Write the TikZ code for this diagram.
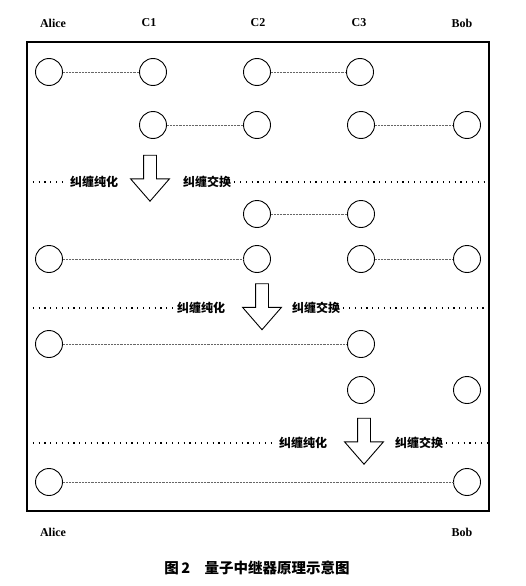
\documentclass[tikz,border=0pt]{standalone}
\usepackage{fontspec}
\setmainfont{Liberation Serif}
\newfontfamily\cjk{Noto Sans CJK SC}
\usetikzlibrary{shapes.arrows}

\begin{document}
\begin{tikzpicture}[x=1pt, y=-1pt,
		qubit/.style={circle, draw, line width=0.9pt, minimum size=27pt, inner sep=0pt},
		link/.style={-, line width=0.45pt, densely dotted, black!60},
		sep/.style={line width=1.1pt, dash pattern=on 1.2pt off 4.6pt},
		party/.style={font=\bfseries\fontsize{12}{14}\selectfont},
		op/.style={font=\cjk\bfseries\fontsize{12}{14}\selectfont, inner sep=3pt},
		downarrow/.style={single arrow, draw, line width=0.9pt, shape border rotate=270,
			minimum height=46pt, inner sep=6pt,
			single arrow head extend=13pt, single arrow tip angle=82}]
		\useasboundingbox (0,0) rectangle (526,586);

		% labels
		\node[party] (alice) at (53, 23) {Alice};
		\node[party] (c1) at (149, 23) {C1};
		\node[party] (c2) at (258, 23) {C2};
		\node[party] (c3) at (359, 23) {C3};
		\node[party] (bob) at (462, 23) {Bob};
		\node[party] (alice2) at (53, 532) {Alice};
		\node[party] (bob2) at (462, 532) {Bob};

		% frame
		\draw[line width=1.3pt] (27, 42) rectangle (489, 511);

		% row 1
		\node[qubit] (a1) at (49, 72) {};
		\node[qubit] (c11) at (153, 72) {};
		\node[qubit] (c21) at (257, 72) {};
		\node[qubit] (c31) at (360, 72) {};
		% row 2
		\node[qubit] (c12) at (153, 125) {};
		\node[qubit] (c22) at (257, 125) {};
		\node[qubit] (c32) at (361, 125) {};
		\node[qubit] (b2) at (467, 125) {};
		% row 3
		\node[qubit] (c23) at (257, 214) {};
		\node[qubit] (c33) at (361, 214) {};
		% row 4
		\node[qubit] (a4) at (49, 259) {};
		\node[qubit] (c24) at (257, 259) {};
		\node[qubit] (c34) at (361, 259) {};
		\node[qubit] (b4) at (467, 259) {};
		% row 5
		\node[qubit] (a5) at (49, 344) {};
		\node[qubit] (c35) at (361, 344) {};
		% row 6
		\node[qubit] (c36) at (361, 390) {};
		\node[qubit] (b6) at (467, 390) {};
		% row 7
		\node[qubit] (a7) at (49, 482) {};
		\node[qubit] (b7) at (467, 482) {};

		% entangled pairs
		\path [link] (a1) edge (c11);
		\path [link] (c21) edge (c31);
		\path [link] (c12) edge (c22);
		\path [link] (c32) edge (b2);
		\path [link] (c23) edge (c33);
		\path [link] (a4) edge (c24);
		\path [link] (c34) edge (b4);
		\path [link] (a5) edge (c35);
		\path [link] (a7) edge (b7);

		% steps
		\coordinate (l1) at (27, 182);
		\coordinate (r1) at (489, 182);
		\node[op] (pur1) at (94, 182) {纠缠纯化};
		\node[downarrow] (arr1) at (150, 174.5) {};
		\node[op] (swp1) at (207, 182) {纠缠交换};
		\draw[sep] (l1) -- (pur1.west);
		\draw[sep] (swp1.east) -- (r1);

		\coordinate (l2) at (27, 308);
		\coordinate (r2) at (489, 308);
		\node[op] (pur2) at (201, 308) {纠缠纯化};
		\node[downarrow] (arr2) at (262, 303) {};
		\node[op] (swp2) at (316, 308) {纠缠交换};
		\draw[sep] (l2) -- (pur2.west);
		\draw[sep] (swp2.east) -- (r2);

		\coordinate (l3) at (27, 443);
		\coordinate (r3) at (489, 443);
		\node[op] (pur3) at (303, 443) {纠缠纯化};
		\node[downarrow] (arr3) at (364, 437.5) {};
		\node[op] (swp3) at (419, 443) {纠缠交换};
		\draw[sep] (l3) -- (pur3.west);
		\draw[sep] (swp3.east) -- (r3);

		% caption
		\node[font=\cjk\bfseries\fontsize{14.5}{16}\selectfont] (cap) at (257, 568) {图\,2\quad 量子中继器原理示意图};
	\end{tikzpicture}
\end{document}
